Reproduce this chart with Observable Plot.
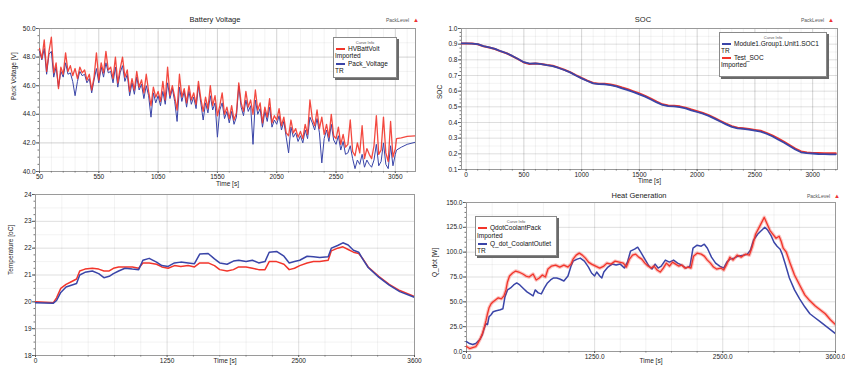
<!DOCTYPE html>
<html><head><meta charset="utf-8">
<script src="https://cdn.jsdelivr.net/npm/d3@7"></script>
<script src="https://cdn.jsdelivr.net/npm/@observablehq/plot@0.6"></script>
<style>
body{margin:0;background:#fff;font-family:"Liberation Sans",Arial,sans-serif;}
#wrap{position:relative;width:845px;height:365px;overflow:hidden;background:#fff;}
.pn{position:absolute;}
.ttl{position:absolute;font-size:7.5px;color:#222;transform:translateX(-50%);white-space:nowrap;}
.pk{position:absolute;font-size:5px;color:#555;white-space:nowrap;}
.pk b{color:#e33;font-weight:normal;font-size:6px;margin-left:4px;}
.leg{position:absolute;background:#fff;border:1px solid #8a8a8a;box-shadow:2px 2px 0 #6a6a6a;font-size:6.5px;color:#111;}
.leg div{position:absolute;white-space:nowrap;line-height:7px;}
.leg .ci{font-size:4px;color:#555;left:0;right:0;text-align:center;}
.leg .sw{height:1.5px;width:9px;}
</style></head>
<body><div id="wrap"></div>
<script>
// ---------- Battery Voltage ----------
const voltStart = 50, voltStep = 20;
const voltRed = [
48.6,47.9,49.2,47.0,48.4, 49.4,46.9,47.6,45.8,47.3, 46.8,48.3,47.0,47.4,46.7, 47.2,46.5,47.3,46.9,47.1,
46.4,46.8,45.7,46.6,48.3, 46.4,47.6,46.9,48.4,47.1, 47.3,46.5,48.0,46.2,47.2, 48.0,46.6,47.1,45.6,46.5,
45.7,47.0,45.9,46.4,45.5, 46.8,45.6,44.6,45.9,45.2, 45.6,44.9,46.3,45.0,47.3, 45.3,46.0,45.2,44.3,46.8,
45.2,45.8,44.8,46.0,45.0, 45.5,44.7,46.3,45.1,44.2, 45.2,44.4,46.0,44.6,45.3, 43.9,44.6,45.5,44.0,44.5,
43.7,44.6,43.6,44.1,46.2, 44.8,44.2,45.6,44.5,45.0, 44.0,45.7,44.3,44.8,43.4, 44.5,43.8,45.1,43.4,43.9,
43.6,44.4,43.2,43.8,42.7, 42.5,43.6,42.7,43.0,42.4, 42.8,42.3,43.3,42.6,45.0, 43.7,43.2,44.3,43.0,43.8,
42.6,43.3,42.4,44.0,42.5, 42.3,43.1,41.9,42.6,41.7, 41.9,43.6,41.4,41.1,42.0, 41.3,43.2,40.9,41.6,41.2,
40.9,41.8,43.9,41.2,41.5, 43.8,41.3,40.7,43.5,41.0, 41.6];
const voltBlue = [
48.4,47.8,48.6,46.8,48.2, 48.4,46.6,47.3,45.9,47.0, 46.6,47.6,46.8,46.9,46.3, 45.3,46.3,47.0,46.7,46.8,
46.2,46.5,45.5,46.4,47.2, 46.2,47.3,46.6,47.6,46.9, 47.0,46.2,47.3,45.9,46.9, 47.4,46.3,46.8,45.3,46.2,
45.4,46.6,45.7,46.1,45.1, 46.0,45.3,43.8,45.5,44.8, 45.3,44.6,45.6,44.7,46.2, 45.1,45.8,44.9,43.5,45.9,
44.9,45.6,44.5,45.6,44.7, 45.2,44.4,46.0,44.8,43.6, 44.8,44.1,45.3,44.3,44.8, 42.4,44.3,44.8,43.7,44.2,
43.4,44.2,43.3,43.8,46.0, 44.5,43.9,45.0,44.2,44.6, 41.9,45.0,44.0,44.4,43.1, 44.2,43.5,44.5,43.1,43.6,
43.3,43.9,42.9,43.5,42.4, 41.3,43.1,42.4,42.7,42.1, 42.5,42.0,42.9,42.3,43.8, 43.4,42.9,43.7,42.7,40.6,
42.3,42.9,42.1,43.3,42.2, 41.9,42.5,41.5,42.1,41.2, 41.3,41.8,40.9,40.2,40.8, 40.5,41.2,40.3,40.8,40.5,
40.3,40.8,41.9,40.4,40.7, 42.0,40.5,40.2,41.8,40.4, 41.2];
const voltTailT = [3060, 3100, 3150, 3220];
const voltRedTail = [42.3, 42.35, 42.45, 42.5];
const voltBlueTail = [41.5, 41.7, 41.9, 42.05];
const voltXTicks = [50, 550, 1050, 1550, 2050, 2550, 3050];
const voltYTicks = [40, 42, 44, 46, 48, 50];

// ---------- SOC ----------
const socStart = -50, socStep = 50;
const socBlue = [0.905,0.905,0.904,0.900,0.888,0.880,0.870,0.855,0.842,0.825,0.805,0.785,0.776,0.778,0.773,0.766,0.760,0.748,0.735,0.720,0.700,0.682,0.665,0.650,0.645,0.644,0.638,0.630,0.618,0.607,0.594,0.580,0.565,0.547,0.528,0.512,0.505,0.503,0.498,0.490,0.478,0.467,0.456,0.442,0.425,0.406,0.388,0.372,0.362,0.360,0.354,0.348,0.342,0.328,0.312,0.292,0.272,0.250,0.228,0.210,0.205,0.202,0.199,0.198,0.197,0.197];
const socRed = [0.905,0.905,0.904,0.899,0.887,0.879,0.869,0.854,0.842,0.824,0.804,0.783,0.774,0.777,0.773,0.767,0.762,0.750,0.737,0.722,0.702,0.684,0.667,0.652,0.647,0.647,0.643,0.635,0.623,0.612,0.599,0.585,0.570,0.552,0.533,0.516,0.509,0.507,0.503,0.495,0.483,0.472,0.461,0.447,0.430,0.411,0.393,0.377,0.367,0.364,0.359,0.353,0.347,0.334,0.318,0.298,0.278,0.256,0.233,0.215,0.209,0.206,0.205,0.204,0.204,0.204];
const socXTicks = [0, 500, 1000, 1500, 2000, 2500, 3000];
const socYTicks = [0.1,0.2,0.3,0.4,0.5,0.6,0.7,0.8,0.9,1.0];

// ---------- Temperature ----------
const tempT = [0,170,200,240,290,340,390,420,470,540,600,650,700,740,790,850,920,980,1020,1080,1150,1200,1260,1320,1380,1450,1510,1560,1640,1700,1750,1820,1880,1930,2000,2060,2120,2180,2220,2290,2360,2410,2460,2510,2580,2640,2700,2780,2810,2870,2920,2970,3020,3070,3110,3160,3260,3360,3460,3600];
const tempRed = [20.00,19.97,20.15,20.50,20.65,20.75,20.85,21.15,21.22,21.25,21.22,21.15,21.15,21.25,21.30,21.30,21.30,21.25,21.45,21.45,21.40,21.30,21.25,21.35,21.32,21.35,21.30,21.45,21.45,21.35,21.20,21.15,21.20,21.30,21.30,21.25,21.20,21.20,21.50,21.50,21.40,21.20,21.25,21.35,21.45,21.50,21.50,21.55,21.90,22.00,22.05,21.95,21.85,21.80,21.60,21.30,20.95,20.65,20.42,20.20];
const tempBlue = [19.97,19.95,20.05,20.35,20.55,20.62,20.68,21.00,21.10,21.15,21.05,20.90,20.95,21.05,21.15,21.25,21.22,21.20,21.55,21.62,21.48,21.35,21.32,21.45,21.48,21.45,21.42,21.78,21.80,21.60,21.45,21.40,21.52,21.55,21.50,21.55,21.45,21.50,21.85,21.88,21.70,21.45,21.50,21.55,21.70,21.68,21.65,21.68,22.00,22.10,22.20,22.12,21.92,21.85,21.58,21.28,20.92,20.62,20.38,20.17];
const tempXTicks = [0, 1250, 2500, 3600];
const tempYTicks = [18, 19, 20, 21, 22, 23, 24];

// ---------- Heat Generation ----------
const heatRedT = [0,30,60,90,110,130,155,175,190,205,220,240,260,285,310,340,365,385,400,420,450,480,510,550,580,610,650,680,710,740,770,795,830,870,910,950,990,1020,1040,1070,1100,1130,1160,1190,1220,1260,1300,1340,1370,1410,1450,1490,1530,1560,1590,1620,1650,1680,1710,1740,1770,1800,1830,1860,1890,1920,1950,1980,2010,2040,2070,2100,2130,2160,2190,2215,2250,2290,2320,2350,2380,2410,2440,2480,2510,2540,2570,2600,2640,2680,2720,2760,2790,2820,2850,2880,2905,2930,2960,2990,3020,3050,3070,3090,3120,3160,3200,3250,3300,3350,3400,3450,3500,3550,3600];
const heatRed = [5,3,4,5,8,12,18,25,31,38,44,48,50,52,54,53,56,62,70,76,79,81,80,78,76,75,78,72,74,77,75,83,86,87,85,87,85,88,93,97,99,97,94,90,88,86,84,86,89,88,91,90,89,85,93,97,98,95,93,89,86,84,86,82,80,84,89,86,90,88,86,87,84,85,84,96,99,98,96,92,89,85,83,84,82,88,95,92,97,95,98,97,106,118,124,130,135,129,122,118,114,116,111,104,100,88,77,67,57,51,46,42,38,32,27];
const heatBlueT = [0,30,60,90,110,130,155,175,190,205,220,240,260,290,330,355,375,400,430,460,490,520,560,590,620,650,670,700,730,760,790,820,850,880,910,950,990,1020,1040,1080,1110,1150,1190,1220,1250,1270,1300,1320,1340,1380,1420,1460,1500,1540,1570,1600,1640,1670,1700,1740,1780,1810,1840,1870,1900,1940,1980,2020,2060,2100,2140,2180,2210,2250,2290,2320,2350,2390,2430,2470,2510,2540,2570,2610,2650,2700,2740,2770,2800,2840,2880,2910,2940,2970,3000,3030,3060,3080,3110,3150,3200,3250,3300,3350,3400,3450,3500,3550,3600];
const heatBlue = [10,8,7,8,10,12,17,24,28,27,35,37,40,41,42,43,55,62,64,67,69,67,63,60,58,56,62,59,58,64,69,72,74,74,73,71,76,86,91,93,94,91,85,79,76,80,76,74,80,85,88,87,88,84,90,101,103,105,100,93,86,83,88,84,86,92,90,92,89,87,84,86,104,107,106,108,104,95,89,86,84,90,93,94,96,97,98,102,112,118,122,125,122,117,110,106,103,98,88,74,62,53,45,38,34,30,26,22,18];
const heatXTicks = [0, 1250, 2500, 3600];
const heatYTicks = [0, 25, 50, 75, 100, 125, 150];

// ---------- Texts ----------
const titles = ["Battery Voltage", "SOC", "Heat Generation"];
const voltNames = ["HVBattVolt", "Imported", "Pack_Voltage", "TR"];
const socNames = ["Module1.Group1.Unit1.SOC1", "TR", "Test_SOC", "Imported"];
const heatNames = ["QdotCoolantPack", "Imported", "Q_dot_CoolantOutlet", "TR"];

const RED = "#f2352b", BLUE = "#3a45a8";
const zipLine = (ts, vs) => vs.map((v, i) => ({t: ts[i], v}));
const seq = (start, step, vs) => vs.map((v, i) => ({t: start + i * step, v}));

function panel(c) {
  const f0 = () => "";
  const marks = [
    Plot.gridX(c.xMinor, {stroke: "#000", strokeOpacity: 0.05}),
    Plot.gridY(c.yMinor, {stroke: "#000", strokeOpacity: 0.05}),
    Plot.gridX(c.xTicks, {stroke: "#000", strokeOpacity: 0.13}),
    Plot.gridY(c.yTicks, {stroke: "#000", strokeOpacity: 0.13}),
    Plot.frame({stroke: "#9a9a9a"}),
    Plot.axisX(c.xTicks, {tickSize: 2, tickPadding: 0.5, tickFormat: c.xFmt, label: null, stroke: "#555"}),
    Plot.axisX(c.xMinor, {tickSize: 1.5, tickFormat: f0, label: null, stroke: "#777"}),
    Plot.axisY(c.yTicks, {tickSize: 3, tickPadding: 1, tickFormat: c.yFmt, label: null, stroke: "#555"}),
    Plot.axisY(c.yMinor2, {tickSize: 1.5, tickFormat: f0, label: null, stroke: "#777"}),
    ...c.lines,
    Plot.text([c.xLabel], {frameAnchor: "bottom", lineAnchor: "top", dy: c.xLabelDy, fontSize: 6.5}),
    Plot.text([c.yLabel], {frameAnchor: "left", rotate: -90, dx: c.yLabelDx, fontSize: 6.5})
  ];
  return Plot.plot({
    width: c.w, height: c.h,
    marginLeft: c.ml, marginRight: c.mr, marginTop: c.mt, marginBottom: c.mb,
    style: {fontFamily: "'Liberation Sans', Arial, sans-serif", fontSize: "6.5px", color: "#222", background: c.bg, overflow: "hidden"},
    x: {domain: c.xd, label: null},
    y: {domain: c.yd, label: null},
    marks
  });
}

const wrap = document.getElementById("wrap");
function place(el, left, top) {
  const d = document.createElement("div");
  d.className = "pn"; d.style.left = left + "px"; d.style.top = top + "px";
  d.appendChild(el); wrap.appendChild(d);
}
function html(cls, left, top, text) {
  const d = document.createElement("div");
  d.className = cls; d.style.left = left + "px"; d.style.top = top + "px";
  d.textContent = text; wrap.appendChild(d); return d;
}
function packLevel(left, top) {
  const d = html("pk", left, top, "PackLevel");
  const b = document.createElement("b"); b.textContent = "▲"; d.appendChild(b);
}
function legend(left, top, w, h, names, colors, rows) {
  const box = document.createElement("div");
  box.className = "leg";
  Object.assign(box.style, {left: left + "px", top: top + "px", width: w + "px", height: h + "px"});
  const ci = document.createElement("div"); ci.className = "ci"; ci.style.top = "1px"; ci.textContent = "Curve Info"; box.appendChild(ci);
  [0, 1].forEach(k => {
    const sw = document.createElement("div"); sw.className = "sw";
    Object.assign(sw.style, {left: "2px", top: (rows[2 * k] + 3) + "px", background: colors[k]});
    box.appendChild(sw);
    const n = document.createElement("div"); n.textContent = names[2 * k];
    Object.assign(n.style, {left: "14px", top: rows[2 * k] + "px"}); box.appendChild(n);
    const s = document.createElement("div"); s.textContent = names[2 * k + 1];
    Object.assign(s.style, {left: "1px", top: rows[2 * k + 1] + "px"}); box.appendChild(s);
  });
  wrap.appendChild(box);
}

// Panel 1: Battery Voltage
const vr = seq(voltStart, voltStep, voltRed).concat(zipLine(voltTailT, voltRedTail));
const vb = seq(voltStart, voltStep, voltBlue).concat(zipLine(voltTailT, voltBlueTail));
place(panel({
  w: 422, h: 191, ml: 39, mr: 7, mt: 28, mb: 20, bg: "white",
  xd: [50, 3220], yd: [40, 50],
  xTicks: voltXTicks, xMinor: d3.range(150, 3220, 100),
  yTicks: voltYTicks, yMinor: d3.range(41, 50, 1), yMinor2: d3.range(40, 50.01, 0.5),
  xFmt: d => String(d), yFmt: d => d.toFixed(1),
  lines: [
    Plot.line(vb, {x: "t", y: "v", stroke: BLUE, strokeWidth: 1, clip: true}),
    Plot.line(vr, {x: "t", y: "v", stroke: RED, strokeWidth: 1.3, strokeOpacity: 0.9, clip: true})
  ],
  xLabel: "Time [s]", xLabelDy: 9.5, yLabel: "Pack Voltage [V]", yLabelDx: -26
}), 0, 0);

// Panel 2: SOC
place(panel({
  w: 423, h: 191, ml: 39, mr: 8, mt: 28, mb: 22, bg: "white",
  xd: [-40, 3215], yd: [0.1, 1.0],
  xTicks: socXTicks, xMinor: d3.range(100, 3215, 100),
  yTicks: socYTicks, yMinor: d3.range(0.15, 1.0, 0.1), yMinor2: d3.range(0.1, 1.001, 0.025),
  xFmt: d => String(d), yFmt: d => d.toFixed(1),
  lines: [
    Plot.line(seq(socStart, socStep, socRed), {x: "t", y: "v", stroke: RED, strokeWidth: 2, clip: true}),
    Plot.line(seq(socStart, socStep, socBlue), {x: "t", y: "v", stroke: BLUE, strokeWidth: 1.8, clip: true})
  ],
  xLabel: "Time [s]", xLabelDy: 8.5, yLabel: "SOC", yLabelDx: -22
}), 422, 0);

// Panel 3: Temperature
place(panel({
  w: 422, h: 180, ml: 35, mr: 8, mt: 9, mb: 10, bg: "transparent",
  xd: [0, 3600], yd: [18, 24],
  xTicks: tempXTicks, xMinor: [250, 500, 750, 1000, 1500, 1750, 2000, 2250, 2750, 3000, 3250],
  yTicks: tempYTicks, yMinor: d3.range(18.5, 24, 1), yMinor2: d3.range(18, 24.01, 0.25),
  xFmt: d => String(d), yFmt: d => String(d),
  lines: [
    Plot.line(zipLine(tempT, tempRed), {x: "t", y: "v", stroke: RED, strokeWidth: 1.5, clip: true}),
    Plot.line(zipLine(tempT, tempBlue), {x: "t", y: "v", stroke: BLUE, strokeWidth: 1.5, clip: true})
  ],
  xLabel: "Time [s]", xLabelDy: 3, yLabel: "Temperature [oC]", yLabelDx: -25
}), 0, 185);

// Panel 4: Heat Generation
const hr = zipLine(heatRedT, heatRed), hb = zipLine(heatBlueT, heatBlue);
place(panel({
  w: 423, h: 180, ml: 44, mr: 10, mt: 17, mb: 14, bg: "transparent",
  xd: [0, 3600], yd: [0, 150],
  xTicks: heatXTicks, xMinor: [250, 500, 750, 1000, 1500, 1750, 2000, 2250, 2750, 3000, 3250],
  yTicks: heatYTicks, yMinor: d3.range(12.5, 150, 25), yMinor2: d3.range(0, 150.1, 5),
  xFmt: d => d.toFixed(1), yFmt: d => d.toFixed(1),
  lines: [
    Plot.line(hb, {x: "t", y: "v", stroke: BLUE, strokeWidth: 1.5, clip: true}),
    Plot.line(hr, {x: "t", y: "v", stroke: RED, strokeWidth: 3.5, strokeOpacity: 0.3, clip: true}),
    Plot.line(hr, {x: "t", y: "v", stroke: RED, strokeWidth: 1.3, clip: true})
  ],
  xLabel: "Time [s]", xLabelDy: 7, yLabel: "Q_dot [W]", yLabelDx: -32
}), 422, 185);

// Titles, PackLevel markers, legends
html("ttl", 215, 15, titles[0]);
html("ttl", 643, 15, titles[1]);
html("ttl", 639, 191, titles[2]);
packLevel(386, 17); packLevel(801, 17); packLevel(807, 193);
legend(333, 37, 62, 39, voltNames, [RED, BLUE], [7, 14, 22, 29]);
legend(719, 32, 106, 43, socNames, [BLUE, RED], [7, 14, 21, 28]);
legend(475, 216, 80, 38, heatNames, [RED, BLUE], [7, 15, 23, 30]);
</script></body></html>
